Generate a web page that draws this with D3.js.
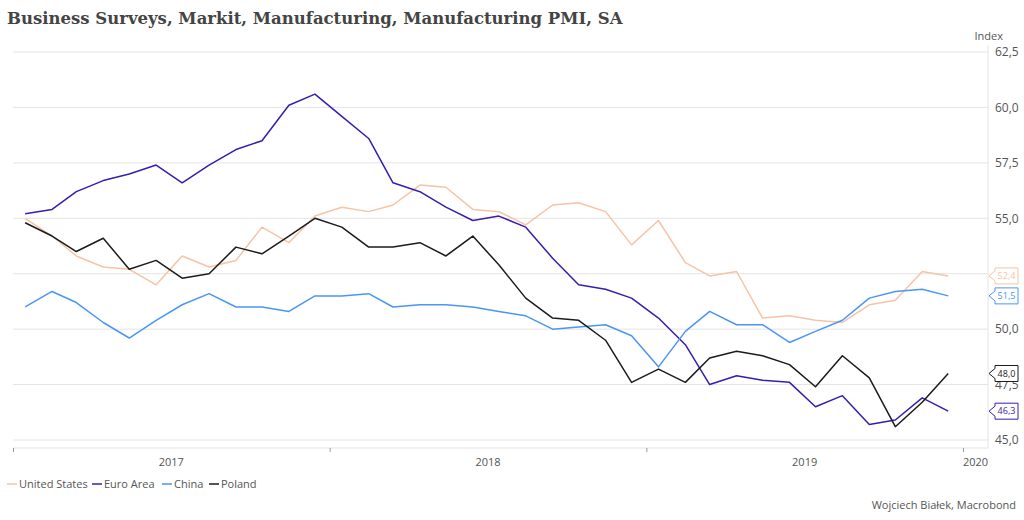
<!DOCTYPE html>
<html><head><meta charset="utf-8">
<script src="https://cdn.jsdelivr.net/npm/d3@7"></script>
<style>
html,body{margin:0;padding:0;background:#fff;}
svg{display:block;}
text{font-family:"Open Sans","Noto Sans",sans-serif;}
</style></head>
<body>
<svg id="chart" width="1024" height="520"></svg>
<script>
const months = [
 "2017-01","2017-02","2017-03","2017-04","2017-05","2017-06","2017-07","2017-08","2017-09","2017-10","2017-11","2017-12",
 "2018-01","2018-02","2018-03","2018-04","2018-05","2018-06","2018-07","2018-08","2018-09","2018-10","2018-11","2018-12",
 "2019-01","2019-02","2019-03","2019-04","2019-05","2019-06","2019-07","2019-08","2019-09","2019-10","2019-11","2019-12"];
const unitedStates = [55.0,54.2,53.3,52.8,52.7,52.0,53.3,52.8,53.1,54.6,53.9,55.1,
 55.5,55.3,55.6,56.5,56.4,55.4,55.3,54.7,55.6,55.7,55.3,53.8,
 54.9,53.0,52.4,52.6,50.5,50.6,50.4,50.3,51.1,51.3,52.6,52.4];
const euroArea = [55.2,55.4,56.2,56.7,57.0,57.4,56.6,57.4,58.1,58.5,60.1,60.6,
 59.6,58.6,56.6,56.2,55.5,54.9,55.1,54.6,53.2,52.0,51.8,51.4,
 50.5,49.3,47.5,47.9,47.7,47.6,46.5,47.0,45.7,45.9,46.9,46.3];
const china = [51.0,51.7,51.2,50.3,49.6,50.4,51.1,51.6,51.0,51.0,50.8,51.5,
 51.5,51.6,51.0,51.1,51.1,51.0,50.8,50.6,50.0,50.1,50.2,49.7,
 48.3,49.9,50.8,50.2,50.2,49.4,49.9,50.4,51.4,51.7,51.8,51.5];
const poland = [54.8,54.2,53.5,54.1,52.7,53.1,52.3,52.5,53.7,53.4,54.2,55.0,
 54.6,53.7,53.7,53.9,53.3,54.2,52.9,51.4,50.5,50.4,49.5,47.6,
 48.2,47.6,48.7,49.0,48.8,48.4,47.4,48.8,47.8,45.6,46.7,48.0];
const yTicks = [45.0,47.5,50.0,52.5,55.0,57.5,60.0,62.5];
const yearTicks = ["2017","2018","2019","2020"];
const seriesNames = ["United States","Euro Area","China","Poland"];
const seriesColors = ["#f5c4a6","#3a1cb0","#4a96f4","#1b1b1b"];
const seriesValues = [unitedStates, euroArea, china, poland];

const svg = d3.select("#chart");
const plotLeft = 13, plotRight = 988, plotTop = 45, axisY = 448;
const parse = d3.timeParse("%Y-%m");
const midMonth = s => { const d = parse(s); return new Date(d.getFullYear(), d.getMonth(), 15); };
const x = d3.scaleTime().domain([new Date(2017,0,1), new Date(2020,0,1)]).range([13, 963]);
const y = d3.scaleLinear().domain([45, 62.5]).range([440, 52]);
const fmt = v => d3.format(".1f")(v).replace(".", ",");

// title
svg.append("text").attr("x", 7).attr("y", 24)
  .style("font-family", "'DejaVu Serif','Liberation Serif',serif")
  .style("font-weight", "bold").style("font-size", "16.5px").attr("fill", "#444")
  .text("Business Surveys, Markit, Manufacturing, Manufacturing PMI, SA");

// gridlines
svg.append("g").selectAll("line").data(yTicks).join("line")
  .attr("x1", plotLeft).attr("x2", plotRight)
  .attr("y1", d => y(d)).attr("y2", d => y(d))
  .attr("stroke", "#e4e4e4").attr("stroke-width", 1);

// right axis line
svg.append("line").attr("x1", plotRight).attr("x2", plotRight).attr("y1", plotTop).attr("y2", axisY)
  .attr("stroke", "#e4e4e4");
// bottom axis line
svg.append("line").attr("x1", plotLeft).attr("x2", plotRight).attr("y1", axisY).attr("y2", axisY)
  .attr("stroke", "#e4e4e4");

// last values (boxes cover tick labels they overlap, as in the reference)
const lastValues = seriesValues.map(v => v[v.length - 1]);
const hiddenTick = t => lastValues.some(v => Math.abs(y(v) - y(t)) < 5);

// y tick labels
const yAxis = d3.axisRight(y).tickValues(yTicks).tickSize(0).tickPadding(0).tickFormat(fmt);
const gy = svg.append("g").attr("transform", `translate(${plotRight + 7},0)`).call(yAxis);
gy.select(".domain").remove();
gy.selectAll("text").style("font-size", "12px").attr("fill", "#555")
  .style("display", d => hiddenTick(d) ? "none" : null);
svg.append("text").attr("x", 1003).attr("y", 40).attr("text-anchor", "end")
  .style("font-size", "11px").attr("fill", "#555").text("Index");

// x axis ticks
const yearDates = yearTicks.map(t => new Date(+t, 0, 1));
const xAxis = d3.axisBottom(x).tickValues(yearDates).tickSize(4).tickFormat("");
const gx = svg.append("g").attr("transform", `translate(0,${axisY})`).call(xAxis);
gx.select(".domain").remove();
gx.selectAll("line").attr("stroke", "#999");
// year labels centered in year interval
svg.append("g").selectAll("text").data(yearDates).join("text")
  .attr("x", d => { const a = x(d); const b = Math.min(x(new Date(d.getFullYear()+1,0,1)), plotRight); return (a + b) / 2; })
  .attr("y", 466).attr("text-anchor", "middle")
  .style("font-size", "11px").attr("fill", "#555")
  .text(d => d.getFullYear());

// lines
const line = d3.line().x((d, i) => x(midMonth(months[i]))).y(d => y(d));
svg.append("g").selectAll("path").data(seriesValues).join("path")
  .attr("d", d => line(d)).attr("fill", "none")
  .attr("stroke", (d, i) => seriesColors[i]).attr("stroke-width", 1.5)
  .attr("stroke-linejoin", "round");

// last value labels
const lastG = svg.append("g");
seriesValues.forEach((vals, i) => {
  const v = vals[vals.length - 1];
  const cy = y(v);
  const x0 = 995, x1 = 1018, h = 16, tip = 989;
  const p = `M${tip},${cy} L${x0},${cy-5} L${x0},${cy-h/2} L${x1},${cy-h/2} L${x1},${cy+h/2} L${x0},${cy+h/2} L${x0},${cy+5} Z`;
  lastG.append("path").attr("d", p).attr("fill", "#fff")
    .attr("stroke", seriesColors[i]).attr("stroke-width", 1).attr("opacity", 1);
  lastG.append("text").attr("x", (x0 + x1) / 2).attr("y", cy + 3.3).attr("text-anchor", "middle")
    .style("font-size", "9px").attr("fill", seriesColors[i]).text(fmt(v));
});

// legend
const legendX = [7, 92, 162, 209];
const lg = svg.append("g");
seriesNames.forEach((n, i) => {
  lg.append("line").attr("x1", legendX[i]).attr("x2", legendX[i] + 10)
    .attr("y1", 484).attr("y2", 484).attr("stroke", seriesColors[i]).attr("stroke-width", 1.5);
  lg.append("text").attr("x", legendX[i] + 12).attr("y", 488)
    .style("font-size", "11px").attr("fill", "#555").text(n);
});

// footer
svg.append("text").attr("x", 1016).attr("y", 509).attr("text-anchor", "end")
  .style("font-size", "11px").attr("fill", "#555").text("Wojciech Białek, Macrobond");
</script>
</body></html>
